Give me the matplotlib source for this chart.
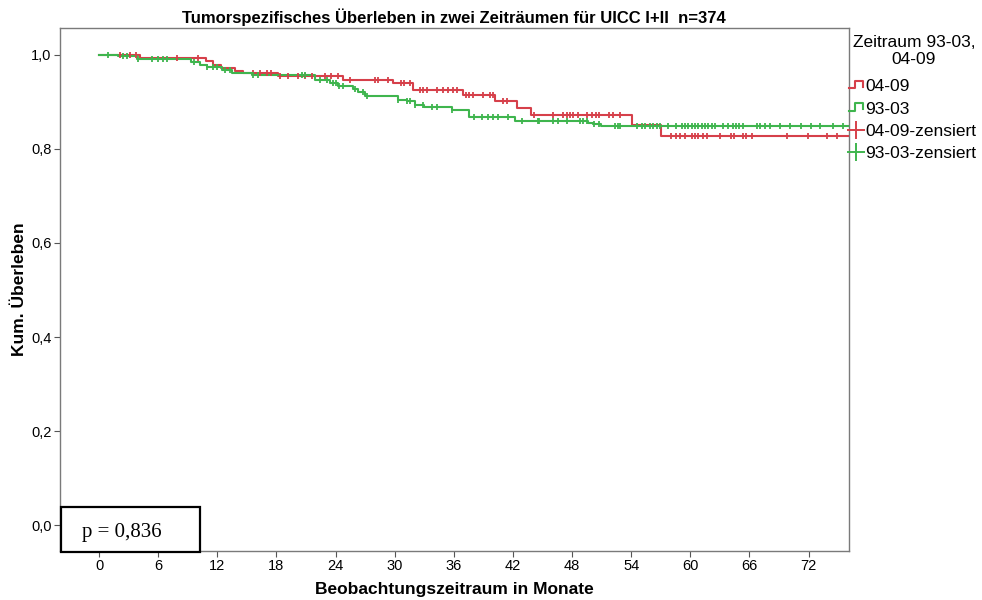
import numpy as np
import matplotlib
matplotlib.use("Agg")
import matplotlib.pyplot as plt
from matplotlib.lines import Line2D
from matplotlib.legend_handler import HandlerBase
from matplotlib.patches import Rectangle

plt.rcParams["font.family"] = ["Liberation Sans", "DejaVu Sans"]

# Kaplan-Meier steps (months, cumulative survival)
red_times = [0, 4.2, 10.9, 11.6, 12.4, 13.8, 14.6, 18.2, 24.8, 29.8, 31.9,
             36.9, 40.2, 42.4, 43.8, 54.1, 57.0]
red_surv = [1.0, 0.994, 0.986, 0.979, 0.973, 0.966, 0.962, 0.956, 0.947, 0.940,
            0.926, 0.915, 0.902, 0.887, 0.872, 0.850, 0.827]
red_censored = [2.1, 3.1, 3.8, 7.9, 10.0, 15.6, 16.3, 17.0, 17.4, 18.4, 19.2,
                20.2, 20.9, 21.6, 22.9, 23.5, 24.2, 25.5, 28.0, 28.3, 29.3, 30.6,
                30.9, 31.6, 32.6, 32.9, 33.3, 34.3, 34.9, 35.4, 35.9, 36.3, 37.2,
                37.5, 37.9, 39.0, 39.7, 40.0, 41.0, 41.4, 44.1, 46.1, 47.1, 47.5,
                47.8, 48.1, 48.6, 49.5, 50.0, 50.4, 50.7, 51.7, 52.2, 52.9, 58.0,
                58.5, 59.0, 59.5, 60.2, 60.5, 60.8, 61.3, 61.7, 63.0, 64.1, 64.4,
                65.3, 65.6, 66.3, 69.8, 71.9, 73.9, 74.9]

green_times = [0, 1.9, 3.9, 9.3, 10.2, 11.0, 12.5, 13.5, 15.5, 21.9, 23.4, 24.2,
               25.8, 26.3, 27.0, 30.3, 31.3, 32.1, 33.0, 35.8, 37.5, 42.2, 49.6,
               50.1, 50.9]
green_surv = [1.0, 0.997, 0.992, 0.985, 0.979, 0.974, 0.968, 0.962, 0.957, 0.947,
              0.941, 0.934, 0.927, 0.921, 0.913, 0.904, 0.901, 0.894, 0.890, 0.883,
              0.867, 0.860, 0.856, 0.852, 0.848]
green_censored = [0.9, 2.4, 2.8, 4.0, 5.4, 6.0, 6.5, 6.9, 9.6, 11.0, 11.6, 12.0,
                  12.8, 13.3, 15.6, 16.1, 20.6, 20.9, 22.4, 23.1, 23.7, 24.0, 24.3,
                  24.8, 26.0, 26.8, 27.2, 30.3, 31.3, 31.6, 32.1, 32.9, 33.8, 34.3,
                  35.8, 38.0, 38.9, 39.5, 40.0, 40.5, 41.5, 42.9, 44.5, 44.6, 46.1,
                  46.6, 47.5, 48.8, 49.1, 49.5, 50.2, 50.7, 52.4, 52.7, 52.9, 54.6,
                  55.1, 55.4, 55.9, 56.2, 56.6, 56.9, 57.7, 58.5, 59.2, 59.5, 59.8,
                  60.2, 60.5, 60.8, 61.2, 61.5, 61.8, 62.2, 62.5, 63.3, 63.8, 64.3,
                  64.6, 64.9, 65.3, 66.8, 67.1, 67.6, 68.1, 69.1, 70.1, 71.2, 72.2,
                  73.2, 74.5, 75.5]

x_ticks = list(range(0, 73, 6))
y_ticks = [0.0, 0.2, 0.4, 0.6, 0.8, 1.0]
y_ticklabels = ["0,0", "0,2", "0,4", "0,6", "0,8", "1,0"]
follow_up_end = 76.1

RED = "#d6404a"
GREEN = "#3fb54e"

fig = plt.figure(figsize=(9.82, 6.0), dpi=100)
ax = fig.add_axes([60 / 982, 49 / 600, 789 / 982, 523 / 600])


def draw_km(times, surv, censored, color):
    t = np.array(times + [follow_up_end])
    s = np.array(surv + [surv[-1]])
    ax.step(t, s, where="post", color=color, lw=1.5, zorder=3)
    c = np.array(censored)
    idx = np.searchsorted(np.array(times), c, side="right") - 1
    ax.plot(c, np.array(surv)[idx], ls="none", marker="|", ms=4.5, mew=1.3,
            color=color, zorder=4)


draw_km(red_times, red_surv, red_censored, RED)
draw_km(green_times, green_surv, green_censored, GREEN)

ax.set_xlim(-3.96, follow_up_end)
ax.set_ylim(-0.055, 1.057)
ax.set_xticks(x_ticks)
ax.set_xticklabels([str(v) for v in x_ticks], fontsize=10.5)
ax.set_yticks(y_ticks)
ax.set_yticklabels(y_ticklabels, fontsize=10.5)
ax.tick_params(direction="out", length=4, width=0.8, color="#555555", pad=2)
for sp in ax.spines.values():
    sp.set_color("#7a7a7a")
    sp.set_linewidth(1.0)

ax.set_xlabel("Beobachtungszeitraum in Monate", fontsize=12.5, fontweight="bold",
              labelpad=6)
ax.set_ylabel("Kum. Überleben", fontsize=12.5, fontweight="bold", labelpad=3)
fig.text(454 / 982, 1 - 17 / 600,
         "Tumorspezifisches Überleben in zwei Zeiträumen für UICC I+II  n=374",
         ha="center", va="center", fontsize=12, fontweight="bold")


class StepHandler(HandlerBase):
    def create_artists(self, legend, orig_handle, xd, yd, width, height,
                       fontsize, trans):
        xs = np.array([0.0, 0.45, 0.45, 1.0, 1.0]) * width - xd
        ys = np.array([0.25, 0.25, 0.85, 0.85, 0.35]) * height - yd
        ln = Line2D(xs, ys, color=orig_handle.get_color(), lw=1.5,
                    transform=trans)
        return [ln]


h_red = Line2D([], [], color=RED)
h_green = Line2D([], [], color=GREEN)
h_red_c = Line2D([], [], color=RED, ls="none", marker="+", ms=13, mew=1.4)
h_green_c = Line2D([], [], color=GREEN, ls="none", marker="+", ms=13, mew=1.4)

fig.text(914 / 982, 1 - 51 / 600, "Zeitraum 93-03,\n04-09", ha="center",
         va="center", multialignment="center", fontsize=12.5, linespacing=1.2)

leg = fig.legend([h_red, h_green, h_red_c, h_green_c],
                 ["04-09", "93-03", "04-09-zensiert", "93-03-zensiert"],
                 handler_map={h_red: StepHandler(), h_green: StepHandler()},
                 fontsize=12.5, loc="upper left",
                 bbox_to_anchor=(849 / 982, 1 - 79 / 600), frameon=False,
                 handlelength=0.8, handletextpad=0.15, labelspacing=0.42,
                 borderpad=0.0, borderaxespad=0)

# p-value box
box = Rectangle((61 / 982, 1 - 552 / 600), 139 / 982, 45 / 600,
                transform=fig.transFigure, facecolor="white", edgecolor="black",
                lw=1.6, zorder=10)
fig.patches.append(box)
fig.text(82 / 982, 1 - 532 / 600, "p = 0,836", fontsize=15,
         family=["Liberation Serif", "DejaVu Serif"], ha="left", va="center",
         zorder=11)

fig.savefig("out.png", dpi=100)
